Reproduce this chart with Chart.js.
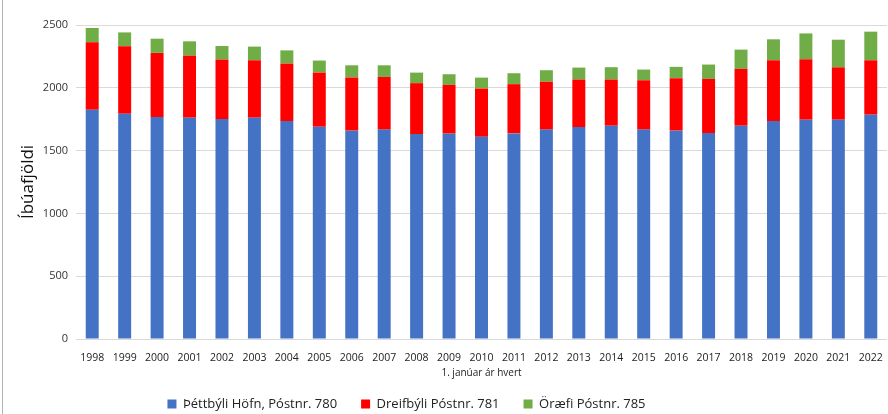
<!DOCTYPE html>
<html>
<head>
<meta charset="utf-8">
<script src="https://cdn.jsdelivr.net/npm/chart.js@4.4.0/dist/chart.umd.min.js"></script>
<style>
  html, body { margin: 0; padding: 0; background: #fff; }
  #wrap { position: relative; width: 888px; height: 414px; }
  #wrap:before { content: ''; position: absolute; left: 2px; top: 0; bottom: 0; border-left: 1px solid #b4b4b4; }
</style>
</head>
<body>
<div id="wrap"><canvas id="myChart" width="888" height="414"></canvas></div>
<script>
const years = ['1998', '1999', '2000', '2001', '2002', '2003', '2004', '2005', '2006', '2007', '2008', '2009',
  '2010', '2011', '2012', '2013', '2014', '2015', '2016', '2017', '2018', '2019', '2020', '2021', '2022'];

const hofn = [1825, 1794, 1767, 1762, 1751, 1762, 1735, 1690, 1659, 1667, 1632, 1635,
  1610, 1637, 1667, 1687, 1698, 1667, 1659, 1640, 1698, 1735, 1746, 1746, 1786];
const dreifbyli = [537, 536, 511, 494, 474, 457, 458, 431, 423, 420, 405, 389,
  384, 392, 381, 379, 368, 393, 417, 431, 453, 484, 481, 417, 433];
const oraefi = [114, 111, 113, 114, 108, 109, 105, 96, 97, 92, 84, 84,
  87, 87, 92, 95, 98, 85, 91, 114, 153, 167, 206, 220, 228];

const yTicks = [0, 500, 1000, 1500, 2000, 2500];

const data = {
  labels: years,
  datasets: [
    { label: 'Þéttbýli Höfn, Póstnr. 780', data: hofn, backgroundColor: '#4472C4' },
    { label: 'Dreifbýli Póstnr. 781', data: dreifbyli, backgroundColor: '#FF0000' },
    { label: 'Öræfi Póstnr. 785', data: oraefi, backgroundColor: '#70AD47' }
  ]
};

// legend: keep it short in the layout, then move it a bit left and up like the original
const legendShift = {
  id: 'legendShift',
  beforeLayout(chart) {
    const lg = chart.legend;
    if (lg && !lg._fixed) {
      const fit = lg.fit;
      lg.fit = function () { fit.call(this); this.height = 32; };
      lg._fixed = true;
    }
  },
  afterLayout(chart) {
    const lg = chart.legend;
    lg.left = -74;
    lg.top -= 8.5;
    lg.bottom = chart.height;
  }
};

const config = {
  type: 'bar',
  data,
  plugins: [legendShift],
  options: {
    responsive: false,
    animation: false,
    barPercentage: 0.4,
    categoryPercentage: 1,
    layout: { padding: { top: 25, right: 1, left: 0, bottom: 0 } },
    plugins: {
      tooltip: { enabled: false },
      legend: {
        position: 'bottom',
        labels: {
          boxWidth: 9,
          boxHeight: 9,
          padding: 24,
          color: '#222',
          font: { family: 'Open Sans', size: 13 }
        }
      }
    },
    scales: {
      x: {
        stacked: true,
        afterFit(scale) { scale.height = 43; },
        grid: { display: false },
        border: { display: false },
        ticks: { color: '#222', padding: 5, maxRotation: 0, autoSkip: false, font: { family: 'Open Sans', size: 10.5 } },
        title: { display: true, text: '1. janúar ár hvert', color: '#222', padding: { top: 0, bottom: 3 }, font: { family: 'Open Sans', size: 10 } }
      },
      y: {
        stacked: true,
        min: 0,
        max: 2500,
        afterBuildTicks(scale) {
          scale.ticks = yTicks.map(v => ({ value: v }));
        },
        afterFit(scale) { scale.width = 76; },
        grid: { color: '#d9d9d9', drawTicks: false },
        border: { display: false },
        ticks: { color: '#333', padding: 8, font: { family: 'Open Sans', size: 11 }, callback: v => String(v) },
        title: { display: true, text: 'Íbúafjöldi', color: '#111', padding: { top: 18, bottom: 0 }, font: { family: 'Open Sans', size: 17 } }
      }
    }
  }
};

const myChart = new Chart(document.getElementById('myChart'), config);
</script>
</body>
</html>
